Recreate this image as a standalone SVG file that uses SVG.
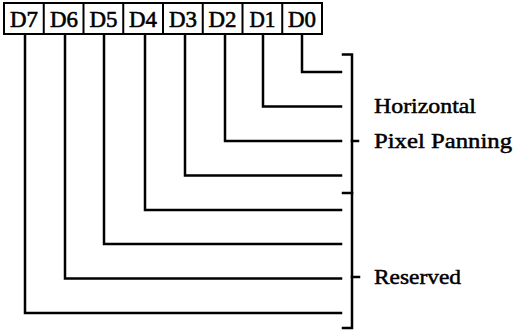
<svg xmlns="http://www.w3.org/2000/svg" width="515" height="331" viewBox="0 0 515 331">
<style>
.box{fill:#fff;stroke:#000;stroke-width:2}
.bl{font-family:'Liberation Serif',serif;font-size:23px;text-anchor:middle;fill:#000;stroke:#000;stroke-width:0.6}
.lbl{font-family:'Liberation Serif',serif;font-size:22px;fill:#000;stroke:#000;stroke-width:0.5}
.ln{fill:none;stroke:#000;stroke-width:2.5;stroke-linejoin:miter;stroke-linecap:square}
</style>
<rect width="515" height="331" fill="#fff"/>
<g id="register">
<rect class="box" x="4" y="3" width="318" height="31"/>
<path d="M43.75 3V34M83.5 3V34M123.25 3V34M163 3V34M202.75 3V34M242.5 3V34M282.25 3V34" stroke="#000" stroke-width="2" fill="none"/>
<text class="bl" x="24" y="27" textLength="28" lengthAdjust="spacingAndGlyphs">D7</text>
<text class="bl" x="64" y="27" textLength="28" lengthAdjust="spacingAndGlyphs">D6</text>
<text class="bl" x="103.5" y="27" textLength="28" lengthAdjust="spacingAndGlyphs">D5</text>
<text class="bl" x="143" y="27" textLength="28" lengthAdjust="spacingAndGlyphs">D4</text>
<text class="bl" x="183" y="27" textLength="28" lengthAdjust="spacingAndGlyphs">D3</text>
<text class="bl" x="222.5" y="27" textLength="28" lengthAdjust="spacingAndGlyphs">D2</text>
<text class="bl" x="262.5" y="27" textLength="26" lengthAdjust="spacingAndGlyphs">D1</text>
<text class="bl" x="302" y="27" textLength="28" lengthAdjust="spacingAndGlyphs">D0</text>
</g>
<g id="connectors">
<polyline class="ln" points="302,35 302,72 341,72"/>
<polyline class="ln" points="263,35 263,106.5 341,106.5"/>
<polyline class="ln" points="225,35 225,141 341,141"/>
<polyline class="ln" points="185,35 185,175.5 341,175.5"/>
<polyline class="ln" points="145,35 145,210 341,210"/>
<polyline class="ln" points="104,35 104,244 341,244"/>
<polyline class="ln" points="65,35 65,278.5 341,278.5"/>
<polyline class="ln" points="25,35 25,313 341,313"/>
</g>
<g id="bracket">
<polyline class="ln" points="343,54.5 352,54.5 352,328 343,328"/>
<line class="ln" x1="343" y1="193" x2="352" y2="193"/>
<line class="ln" x1="352" y1="141" x2="358" y2="141"/>
<line class="ln" x1="352" y1="277" x2="359" y2="277"/>
</g>
<g id="label-horizontal"><text class="lbl" x="374" y="113" textLength="102" lengthAdjust="spacingAndGlyphs">Horizontal</text></g>
<g id="label-pixel-panning"><text class="lbl" x="374" y="148" textLength="138" lengthAdjust="spacingAndGlyphs">Pixel Panning</text></g>
<g id="label-reserved"><text class="lbl" x="374" y="284" textLength="87" lengthAdjust="spacingAndGlyphs">Reserved</text></g>
</svg>
